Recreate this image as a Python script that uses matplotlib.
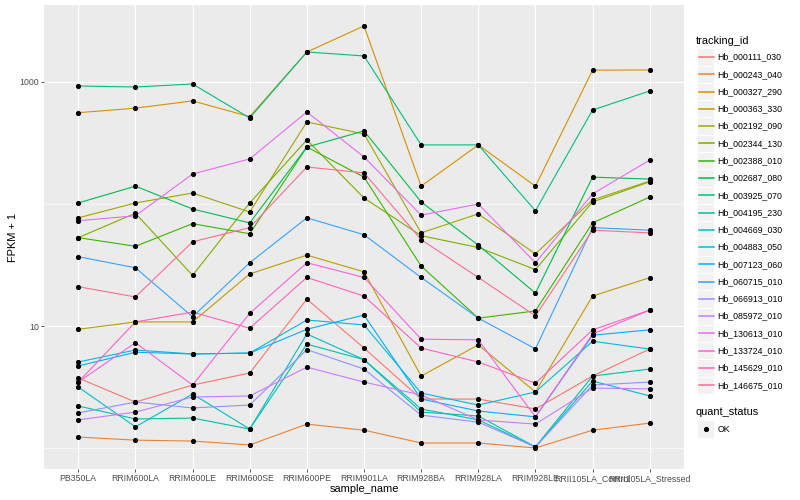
import matplotlib
matplotlib.use("Agg")
import matplotlib.pyplot as plt
from matplotlib.patches import Rectangle

plt.rcParams['font.family'] = ['Liberation Sans', 'DejaVu Sans']

# categories on the x axis
samples = ["PB350LA", "RRIM600LA", "RRIM600LE", "RRIM600SE", "RRIM600PE",
           "RRIM901LA", "RRIM928BA", "RRIM928LA", "RRIM928LE",
           "RRII105LA_Control", "RRII105LA_Stressed"]

# FPKM + 1 per gene
hb_000111_030 = [3.75, 2.38, 3.28, 4.12, 16.6, 6.6, 2.52, 2.52, 2.09, 3.89, 6.47]
hb_000243_040 = [1.23, 1.16, 1.14, 1.06, 1.57, 1.40, 1.10, 1.10, 1.00, 1.40, 1.60]
hb_000327_290 = [560, 610, 700, 520, 1760, 2880, 140, 305, 140, 1250, 1255]
hb_000363_330 = [9.4, 10.8, 10.8, 26.7, 38.1, 27.8, 3.89, 7.0, 2.88, 17.6, 24.9]
hb_002192_090 = [77, 102, 123, 86, 470, 375, 58, 83, 39, 108, 154]
hb_002344_130 = [53, 84, 26, 102, 335, 112, 55, 44, 29, 104, 152]
hb_002388_010 = [53, 45, 69, 57, 293, 166, 31, 11.6, 13.3, 70, 114]
hb_002687_080 = [102, 140, 91, 70, 293, 397, 104, 46, 18.6, 166, 160]
hb_003925_070 = [927, 910, 963, 507, 1762, 1634, 305, 305, 88, 589, 844]
hb_004195_230 = [2.21, 1.73, 1.76, 1.43, 7.1, 5.3, 1.97, 1.83, 1.02, 3.89, 4.44]
hb_004669_030 = [3.16, 1.49, 2.77, 1.43, 8.6, 5.3, 2.09, 1.70, 1.02, 3.54, 2.67]
hb_004883_050 = [5.07, 6.36, 5.9, 6.0, 11.2, 10.2, 2.82, 2.25, 2.88, 7.5, 6.47]
hb_007123_060 = [4.7, 6.1, 5.9, 6.0, 9.4, 12.3, 2.52, 2.01, 1.80, 8.4, 9.3]
hb_060715_010 = [37, 30, 11.9, 33, 77, 56, 25, 11.6, 6.5, 64, 61]
hb_066913_010 = [1.94, 2.38, 2.13, 2.25, 6.4, 4.44, 1.86, 1.63, 1.02, 3.28, 3.47]
hb_085972_010 = [1.70, 1.97, 2.62, 2.67, 4.6, 3.47, 2.72, 1.70, 1.57, 3.1, 3.05]
hb_130613_010 = [73, 80, 176, 234, 568, 243, 81, 100, 33, 121, 229]
hb_133724_010 = [3.47, 7.3, 3.28, 12.7, 33, 25, 7.8, 7.7, 1.80, 8.6, 13.5]
hb_145629_010 = [3.47, 10.8, 13.0, 9.6, 25, 17.6, 6.6, 5.07, 3.4, 9.3, 13.5]
hb_146675_010 = [21, 17.3, 49, 64, 201, 180, 51, 25, 12.1, 61, 58]

tracking_ids = ["Hb_000111_030", "Hb_000243_040", "Hb_000327_290", "Hb_000363_330",
                "Hb_002192_090", "Hb_002344_130", "Hb_002388_010", "Hb_002687_080",
                "Hb_003925_070", "Hb_004195_230", "Hb_004669_030", "Hb_004883_050",
                "Hb_007123_060", "Hb_060715_010", "Hb_066913_010", "Hb_085972_010",
                "Hb_130613_010", "Hb_133724_010", "Hb_145629_010", "Hb_146675_010"]
series = [hb_000111_030, hb_000243_040, hb_000327_290, hb_000363_330,
          hb_002192_090, hb_002344_130, hb_002388_010, hb_002687_080,
          hb_003925_070, hb_004195_230, hb_004669_030, hb_004883_050,
          hb_007123_060, hb_060715_010, hb_066913_010, hb_085972_010,
          hb_130613_010, hb_133724_010, hb_145629_010, hb_146675_010]

# ggplot hue palette, 20 levels
colors = ["#F8766D", "#EA8331", "#D89000", "#C09B00", "#A3A500", "#7CAE00",
          "#39B600", "#00BB4E", "#00BF7D", "#00C1A3", "#00BFC4", "#00BAE0",
          "#00B0F6", "#35A2FF", "#9590FF", "#C77CFF", "#E76BF3", "#FA62DB",
          "#FF62BC", "#FF6C91"]

W, H = 800, 500
fig = plt.figure(figsize=(8, 5), dpi=100)
ax = fig.add_axes([44 / W, 1 - 469 / H, 640 / W, 464 / H])
ax.set_facecolor("#EBEBEB")
ax.set_yscale("log")
xs = list(range(len(samples)))

for vals, col in zip(series, colors):
    ax.plot(xs, vals, color=col, lw=0.8, zorder=3)
for vals in series:
    ax.plot(xs, vals, 'o', color='black', ms=2.7, zorder=4)

ax.set_xlim(-0.6, 10.6)
ax.set_ylim(10 ** -0.172, 10 ** 3.631)
ax.set_xticks(xs)
ax.set_xticklabels(samples)
ax.set_yticks([10, 1000])
ax.set_yticklabels(["10", "1000"])
ax.set_yticks([1, 100], minor=True)
ax.yaxis.set_minor_formatter(plt.NullFormatter())
ax.tick_params(axis='both', which='major', labelsize=6.3, labelcolor="#4D4D4D",
               color="#333333", length=2, width=0.6, pad=1.5)
ax.tick_params(axis='both', which='minor', length=0)
ax.grid(True, which='major', color='white', lw=0.8, zorder=0)
ax.grid(True, which='minor', axis='y', color='white', lw=0.4, zorder=0)
ax.set_axisbelow(True)
for s in ax.spines.values():
    s.set_visible(False)
ax.set_xlabel("sample_name", fontsize=7.9, labelpad=0.5)
ax.set_ylabel("FPKM + 1", fontsize=7.9, labelpad=1)

# legends drawn in pixel coordinates
lg = fig.add_axes([0, 0, 1, 1])
lg.set_xlim(0, W)
lg.set_ylim(H, 0)
lg.axis('off')

lg.text(696, 41, "tracking_id", fontsize=7.9, va='center', ha='left')
step = 17.28
for i, (name, col) in enumerate(zip(tracking_ids, colors)):
    yc = 57 + i * step
    lg.add_patch(Rectangle((697, yc - step / 2), step, step, facecolor="#F2F2F2",
                           edgecolor='white', lw=0.7))
    lg.plot([698.5, 713.5], [yc, yc], color=col, lw=1.1)
    lg.text(717.5, yc, name, fontsize=6.3, va='center', ha='left')

lg.text(696, 412, "quant_status", fontsize=7.9, va='center', ha='left')
lg.add_patch(Rectangle((697, 429 - step / 2), step, step, facecolor="#F2F2F2",
                       edgecolor='white', lw=0.7))
lg.plot([705.6], [429], 'o', color='black', ms=2.7)
lg.text(717.5, 429, "OK", fontsize=6.3, va='center', ha='left')

fig.savefig("out.png", dpi=100, facecolor='white')
